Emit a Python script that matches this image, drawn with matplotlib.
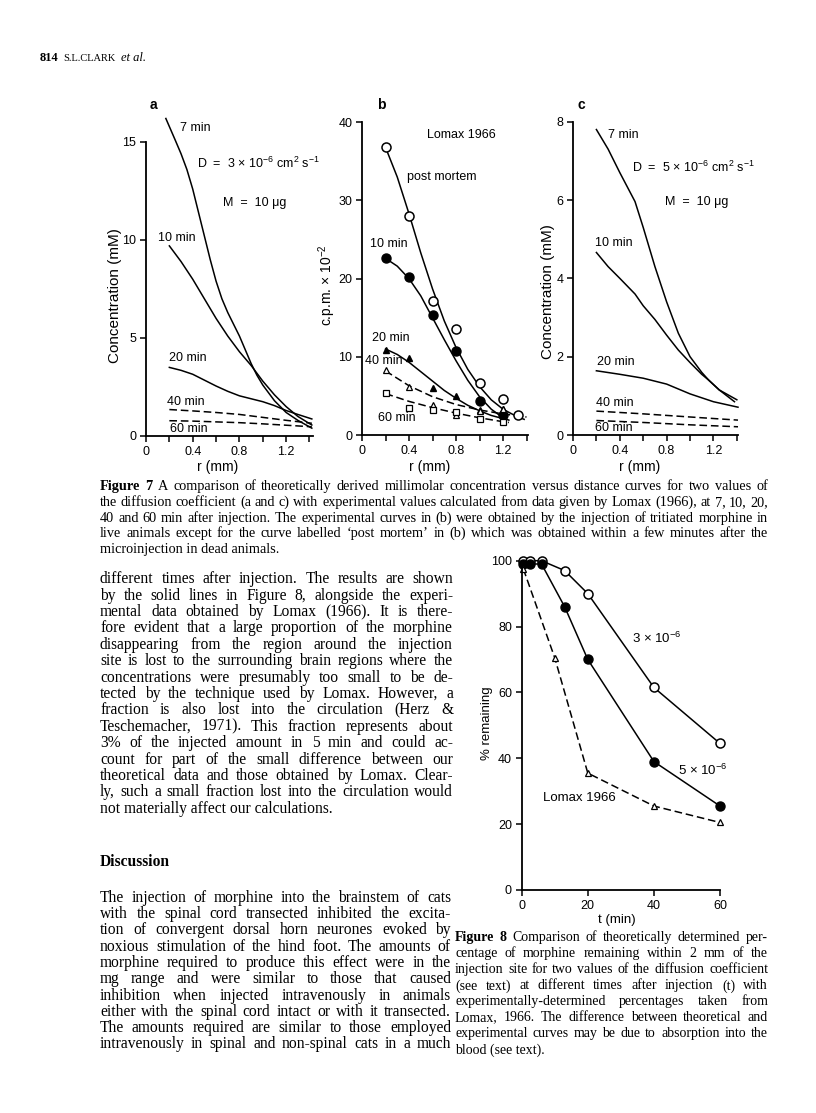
import matplotlib
matplotlib.use("Agg")
import matplotlib.pyplot as plt
import numpy as np

W, H = 816, 1113
plt.rcParams['font.family'] = 'Liberation Sans'
plt.rcParams['mathtext.fontset'] = 'custom'
plt.rcParams['mathtext.rm'] = 'Liberation Sans'
plt.rcParams['mathtext.it'] = 'Liberation Sans:italic'
plt.rcParams['mathtext.bf'] = 'Liberation Sans:bold'
plt.rcParams['mathtext.default'] = 'regular'

# ---- Figure 7a: theory, D = 3e-6
a7_x = [0.17, 0.25, 0.3, 0.35, 0.4, 0.45, 0.5, 0.55, 0.6, 0.65, 0.7, 0.75, 0.8, 0.85, 0.9, 0.95, 1.0, 1.1, 1.2, 1.3, 1.42]
a7_y = [16.2, 15.1, 14.4, 13.6, 12.6, 11.4, 10.2, 9.0, 7.9, 7.0, 6.3, 5.7, 5.1, 4.4, 3.7, 3.1, 2.6, 1.8, 1.2, 0.8, 0.4]
a10_x = [0.2, 0.3, 0.4, 0.5, 0.6, 0.7, 0.8, 0.9, 1.0, 1.1, 1.2, 1.3, 1.42]
a10_y = [9.7, 8.9, 8.0, 7.0, 6.0, 5.1, 4.3, 3.6, 2.8, 2.1, 1.5, 1.0, 0.56]
a20_x = [0.2, 0.3, 0.4, 0.5, 0.6, 0.7, 0.8, 0.9, 1.0, 1.1, 1.2, 1.3, 1.42]
a20_y = [3.5, 3.35, 3.15, 2.85, 2.55, 2.28, 2.05, 1.9, 1.75, 1.55, 1.3, 1.1, 0.87]
a40_x = [0.2, 0.4, 0.6, 0.8, 1.0, 1.2, 1.42]
a40_y = [1.35, 1.28, 1.2, 1.1, 0.95, 0.8, 0.65]
a60_x = [0.2, 0.4, 0.6, 0.8, 1.0, 1.2, 1.42]
a60_y = [0.78, 0.76, 0.72, 0.68, 0.62, 0.55, 0.47]

# ---- Figure 7b: Lomax 1966 data points
b_r = [0.2, 0.4, 0.6, 0.8, 1.0, 1.2]
pm_r = [0.2, 0.4, 0.6, 0.8, 1.0, 1.2, 1.33]
pm_pts = [36.8, 28.0, 17.2, 13.5, 6.7, 4.6, 2.5]
b10_pts = [22.6, 20.2, 15.3, 10.8, 4.3, 2.5]
b20_pts = [10.9, 9.8, 6.0, 5.0, 3.2, 3.3]
b40_pts = [8.3, 6.1, 3.8, 2.6, 3.1, 3.3]
b60_pts = [5.4, 3.5, 3.2, 3.0, 2.1, 1.7]
# hand-drawn curves through them
pm_cx = [0.2, 0.3, 0.4, 0.5, 0.6, 0.7, 0.8, 0.9, 1.0, 1.1, 1.2, 1.3, 1.38]
pm_cy = [36.8, 33.0, 28.3, 23.3, 18.7, 14.6, 11.2, 8.4, 6.2, 4.5, 3.3, 2.5, 2.0]
b10_cx = [0.2, 0.3, 0.4, 0.5, 0.6, 0.7, 0.8, 0.9, 1.0, 1.1, 1.2, 1.25]
b10_cy = [22.6, 21.6, 20.0, 17.8, 15.0, 12.2, 9.5, 7.0, 4.9, 3.3, 2.2, 1.9]
b20_cx = [0.2, 0.3, 0.4, 0.5, 0.6, 0.7, 0.8, 0.9, 1.0, 1.1, 1.2]
b20_cy = [11.0, 10.3, 9.3, 8.1, 6.9, 5.7, 4.7, 3.8, 3.1, 2.5, 2.1]
b40_cx = [0.2, 0.4, 0.6, 0.8, 1.0, 1.2, 1.4]
b40_cy = [8.2, 6.3, 4.9, 3.9, 3.2, 2.7, 2.3]
b60_cx = [0.2, 0.4, 0.6, 0.8, 1.0, 1.2, 1.25]
b60_cy = [5.3, 4.3, 3.5, 2.8, 2.2, 1.7, 1.6]

# ---- Figure 7c: theory, D = 5e-6
c7_x = [0.2, 0.3, 0.4, 0.53, 0.6, 0.7, 0.8, 0.9, 1.0, 1.1, 1.16, 1.25, 1.4]
c7_y = [7.8, 7.3, 6.7, 5.96, 5.3, 4.3, 3.4, 2.6, 2.0, 1.6, 1.4, 1.15, 0.9]
c10_x = [0.2, 0.3, 0.4, 0.53, 0.6, 0.7, 0.8, 0.9, 1.0, 1.1, 1.16, 1.25, 1.38]
c10_y = [4.66, 4.3, 4.0, 3.6, 3.3, 2.95, 2.55, 2.17, 1.85, 1.55, 1.4, 1.15, 0.85]
c20_x = [0.2, 0.4, 0.6, 0.8, 1.0, 1.2, 1.41]
c20_y = [1.64, 1.55, 1.45, 1.3, 1.05, 0.85, 0.71]
c40_x = [0.2, 0.6, 1.0, 1.41]
c40_y = [0.61, 0.54, 0.46, 0.38]
c60_x = [0.2, 0.6, 1.0, 1.41]
c60_y = [0.37, 0.32, 0.26, 0.21]

# ---- Figure 8
t_theory = [0.5, 2.5, 6, 13, 20, 40, 60]
d3_pct = [100, 100, 100, 97, 90, 61.5, 44.5]
d5_pct = [99, 99, 99, 86, 70, 39, 25.5]
t_lomax = [0.5, 10, 20, 40, 60]
lomax_pct = [97.5, 70.5, 35.5, 25.5, 20.5]

r_ticks = [0, 0.4, 0.8, 1.2]
r_labels = ['0', '0.4', '0.8', '1.2']

fig = plt.figure(figsize=(W / 100, H / 100), dpi=100)
fig.patch.set_facecolor('white')


def box(x0, y0, x1, y1):
    return [x0 / W, 1 - y1 / H, (x1 - x0) / W, (y1 - y0) / H]


def frame(ax, xlim, ylim):
    ax.set_xlim(*xlim)
    ax.set_ylim(*ylim)
    for s in ['top', 'right']:
        ax.spines[s].set_visible(False)
    for s in ['left', 'bottom']:
        ax.spines[s].set_linewidth(1.3)
    ax.tick_params(which='both', direction='out', length=4, width=1.1,
                   labelsize=9, pad=3)
    ax.patch.set_alpha(0)


def txt(x, y, s, size=9, ha='left', **kw):
    fig.text(x / W, 1 - y / H, s, fontsize=size, ha=ha, va='center', **kw)


def rplot(ax):
    ax.set_xticks(r_ticks)
    ax.set_xticklabels(r_labels)
    ax.set_xticks([0.2, 0.6, 1.0, 1.4], minor=True)


lw = 1.1
dash = (0, (5, 2.5))

# ---------- panel a
ax = fig.add_axes(box(146, 142, 313, 436))
frame(ax, (0, 1.43), (0, 15))
rplot(ax)
ax.set_yticks([0, 5, 10, 15])
ax.plot(a7_x, a7_y, 'k-', lw=lw, clip_on=False)
ax.plot(a10_x, a10_y, 'k-', lw=lw, clip_on=False)
ax.plot(a20_x, a20_y, 'k-', lw=lw, clip_on=False)
ax.plot(a40_x, a40_y, 'k', ls=dash, lw=lw, clip_on=False)
ax.plot(a60_x, a60_y, 'k', ls=dash, lw=lw, clip_on=False)

# ---------- panel b
ax = fig.add_axes(box(362, 122.3, 527.7, 435))
frame(ax, (0, 1.41), (0, 40))
rplot(ax)
ax.set_yticks([0, 10, 20, 30, 40])
ax.plot(pm_cx, pm_cy, 'k-', lw=lw, clip_on=False)
ax.plot(b10_cx, b10_cy, 'k-', lw=lw, clip_on=False)
ax.plot(b20_cx, b20_cy, 'k-', lw=lw, clip_on=False)
ax.plot(b40_cx, b40_cy, 'k', ls=dash, lw=lw, clip_on=False)
ax.plot(b60_cx, b60_cy, 'k', ls=dash, lw=lw, clip_on=False)
ax.plot(pm_r, pm_pts, 'o', ms=6.5, mfc='white', mec='k', mew=1.1, clip_on=False)
ax.plot(b_r, b10_pts, 'o', ms=6.5, mfc='k', mec='k', clip_on=False)
ax.plot(b_r, b20_pts, '^', ms=4.5, mfc='k', mec='k', clip_on=False)
ax.plot(b_r, b40_pts, '^', ms=4.5, mfc='white', mec='k', mew=0.9, clip_on=False)
ax.plot(b_r, b60_pts, 's', ms=4.5, mfc='white', mec='k', mew=0.9, clip_on=False)

# ---------- panel c
ax = fig.add_axes(box(573, 121.7, 738, 435))
frame(ax, (0, 1.41), (0, 8))
rplot(ax)
ax.set_yticks([0, 2, 4, 6, 8])
ax.plot(c7_x, c7_y, 'k-', lw=lw, clip_on=False)
ax.plot(c10_x, c10_y, 'k-', lw=lw, clip_on=False)
ax.plot(c20_x, c20_y, 'k-', lw=lw, clip_on=False)
ax.plot(c40_x, c40_y, 'k', ls=dash, lw=lw, clip_on=False)
ax.plot(c60_x, c60_y, 'k', ls=dash, lw=lw, clip_on=False)

# ---------- figure 8
ax = fig.add_axes(box(521.7, 560.7, 720, 890))
frame(ax, (0, 60), (0, 100))
ax.set_xticks([0, 20, 40, 60])
ax.set_yticks([0, 20, 40, 60, 80, 100])
ax.plot(t_theory, d3_pct, 'k-o', lw=lw, ms=6.5, mfc='white', mec='k', mew=1.1, clip_on=False)
ax.plot(t_theory, d5_pct, 'k-o', lw=lw, ms=6.5, mfc='k', mec='k', clip_on=False)
ax.plot(t_lomax, lomax_pct, 'k^', ls=dash, lw=lw, ms=5, mfc='white', mec='k', mew=0.9, clip_on=False)

# ---------- chart annotations
txt(150, 105, 'a', 10, fontweight='bold')
txt(377, 105, 'b', 10, fontweight='bold')
txt(578, 105, 'c', 10, fontweight='bold')
txt(180, 128, '7 min')
txt(158, 238, '10 min')
txt(169, 358, '20 min')
txt(167, 402, '40 min')
txt(170, 429, '60 min')
txt(197, 163, 'D  =  3 × 10$^{-6}$ cm$^{2}$ s$^{-1}$')
txt(223, 203, 'M  =  10 μg')
txt(427, 135, 'Lomax 1966')
txt(407, 177, 'post mortem')
txt(370, 244, '10 min')
txt(372, 338, '20 min')
txt(365, 361, '40 min')
txt(378, 418, '60 min')
txt(608, 135, '7 min')
txt(632, 167, 'D  =  5 × 10$^{-6}$ cm$^{2}$ s$^{-1}$')
txt(665, 202, 'M  =  10 μg')
txt(595, 243, '10 min')
txt(597, 362, '20 min')
txt(596, 403, '40 min')
txt(595, 428, '60 min')
txt(115, 296, 'Concentration (mM)', 11, ha='center', rotation=90)
txt(327, 285, 'c.p.m. × 10$^{-2}$', 10, ha='center', rotation=90)
txt(548, 292, 'Concentration (mM)', 11, ha='center', rotation=90)
txt(218, 467, 'r (mm)', 10, ha='center')
txt(430, 467, 'r (mm)', 10, ha='center')
txt(640, 467, 'r (mm)', 10, ha='center')
txt(632, 638, '3 × 10$^{-6}$', 9.5)
txt(678, 770, '5 × 10$^{-6}$', 9.5)
txt(543, 798, 'Lomax 1966', 9.5)
txt(487, 723, '% remaining', 9.5, ha='center', rotation=90)
txt(617, 920, 't (min)', 9.5, ha='center')

# ---------- page text
serif = 'Liberation Serif'
renderer = fig.canvas.get_renderer()


def justify(lines, x0, x1, yc, dy, size, last_left=True):
    for i, line in enumerate(lines):
        fpx = size * 100 / 72
        yb = 1 - (yc + i * dy + 0.24 * fpx) / H
        if last_left and i == len(lines) - 1:
            fig.text(x0 / W, yb, line, fontsize=size, family=serif, va='baseline')
            continue
        objs = []
        for w in line.split(' '):
            bold = w.startswith('^')
            objs.append(fig.text(0, yb, w.lstrip('^'), fontsize=size, family=serif,
                                 fontweight='bold' if bold else 'normal', va='baseline'))
        n = max(len(objs) - 1, 1)
        widths = [o.get_window_extent(renderer=renderer).width for o in objs]
        gap = (x1 - x0 - sum(widths)) / n
        if gap < 0.22 * fpx:
            # line too long for this size: shrink it to fit
            k = (x1 - x0) / (sum(widths) + n * 0.22 * fpx)
            for o in objs:
                o.set_fontsize(size * k)
            widths = [o.get_window_extent(renderer=renderer).width for o in objs]
            gap = (x1 - x0 - sum(widths)) / n
        x = x0
        for o, wd in zip(objs, widths):
            o.set_x(x / W)
            x += wd + gap


hx = 40
for s, kw in [('814', dict(fontsize=9, fontweight='bold')),
              ('S.L.CLARK', dict(fontsize=7.5)),
              ('et al.', dict(fontsize=9, style='italic'))]:
    t = fig.text(hx / W, 1 - 61 / H, s, family=serif, va='baseline', **kw)
    hx += t.get_window_extent(renderer=renderer).width + 5

cap7 = [
    "^Figure ^7 A comparison of theoretically derived millimolar concentration versus distance curves for two values of",
    "the diffusion coefficient (a and c) with experimental values calculated from data given by Lomax (1966), at 7, 10, 20,",
    "40 and 60 min after injection. The experimental curves in (b) were obtained by the injection of tritiated morphine in",
    "live animals except for the curve labelled ‘post mortem’ in (b) which was obtained within a few minutes after the",
    "microinjection in dead animals.",
]
justify(cap7, 100, 768, 487, 15.6, 10.3)

body1 = [
    "different times after injection. The results are shown",
    "by the solid lines in Figure 8, alongside the experi-",
    "mental data obtained by Lomax (1966). It is there-",
    "fore evident that a large proportion of the morphine",
    "disappearing from the region around the injection",
    "site is lost to the surrounding brain regions where the",
    "concentrations were presumably too small to be de-",
    "tected by the technique used by Lomax. However, a",
    "fraction is also lost into the circulation (Herz &",
    "Teschemacher, 1971). This fraction represents about",
    "3% of the injected amount in 5 min and could ac-",
    "count for part of the small difference between our",
    "theoretical data and those obtained by Lomax. Clear-",
    "ly, such a small fraction lost into the circulation would",
    "not materially affect our calculations.",
]
justify(body1, 100, 453, 579.5, 16.4, 11.2)

fig.text(100 / W, 1 - 866 / H, 'Discussion', fontsize=11.2, family=serif, fontweight='bold', va='baseline')

body2 = [
    "The injection of morphine into the brainstem of cats",
    "with the spinal cord transected inhibited the excita-",
    "tion of convergent dorsal horn neurones evoked by",
    "noxious stimulation of the hind foot. The amounts of",
    "morphine required to produce this effect were in the",
    "mg range and were similar to those that caused",
    "inhibition when injected intravenously in animals",
    "either with the spinal cord intact or with it transected.",
    "The amounts required are similar to those employed",
    "intravenously in spinal and non-spinal cats in a much",
]
justify(body2, 100, 451, 898, 16.3, 11.2, last_left=False)

cap8 = [
    "^Figure ^8 Comparison of theoretically determined per-",
    "centage of morphine remaining within 2 mm of the",
    "injection site for two values of the diffusion coefficient",
    "(see text) at different times after injection (t) with",
    "experimentally-determined percentages taken from",
    "Lomax, 1966. The difference between theoretical and",
    "experimental curves may be due to absorption into the",
    "blood (see text).",
]
justify(cap8, 455, 768, 938, 16, 10)

fig.savefig('out.png', dpi=100, facecolor='white')
